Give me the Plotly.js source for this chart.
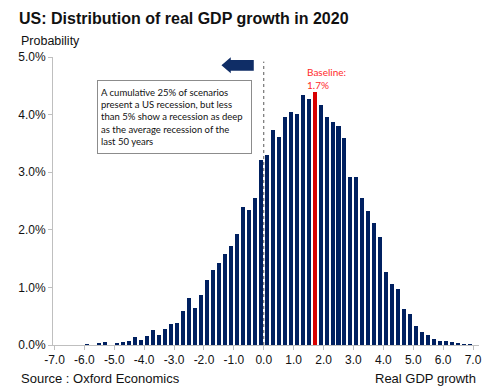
<!DOCTYPE html>
<html>
<head>
<meta charset="utf-8">
<script src="https://cdn.plot.ly/plotly-3.0.1.min.js"></script>
<style>html,body{margin:0;padding:0;background:#fff;}#chart{width:502px;height:390px;}</style>
</head>
<body>
<div id="chart"></div>
<script>
// Bin centres (real GDP growth, %)
const categories = [-5.9,-5.7,-5.5,-5.3,-5.1,-4.9,-4.7,-4.5,-4.3,-4.1,-3.9,-3.7,-3.5,-3.3,-3.1,-2.9,-2.7,-2.5,-2.3,-2.1,-1.9,-1.7,-1.5,-1.3,-1.1,-0.9,-0.7,-0.5,-0.3,-0.1,0.1,0.3,0.5,0.7,0.9,1.1,1.3,1.5,1.7,1.9,2.1,2.3,2.5,2.7,2.9,3.1,3.3,3.5,3.7,3.9,4.1,4.3,4.5,4.7,4.9,5.1,5.3,5.5,5.7,5.9,6.1,6.3,6.5,6.7,6.9];
// Probability (%)
const probability = [0.02,0,0.03,0.05,0,0.035,0.045,0.075,0.14,0.09,0.16,0.255,0.17,0.27,0.365,0.377,0.59,0.816,0.637,0.86,1.13,1.30,1.43,1.585,1.72,1.93,2.40,2.34,2.55,3.21,3.30,3.73,3.61,3.95,4.05,4.01,4.34,4.27,4.39,4.16,3.96,3.87,3.81,3.59,2.92,2.91,2.56,2.32,2.12,1.87,1.27,1.065,0.98,0.625,0.54,0.336,0.226,0.174,0.10,0.075,0.064,0.046,0.03,0.023,0.01];
const baseline = 1.7;
const xTickVals = [-7,-6,-5,-4,-3,-2,-1,0,1,2,3,4,5,6,7];
const xTickText = ["-7.0","-6.0","-5.0","-4.0","-3.0","-2.0","-1.0","0.0","1.0","2.0","3.0","4.0","5.0","6.0","7.0"];
const yTickVals = [0,1,2,3,4,5];
const yTickText = ["0.0%","1.0%","2.0%","3.0%","4.0%","5.0%"];

const navy = '#002060';
const red = '#d80000';
const colors = categories.map(c => Math.abs(c - baseline) < 1e-9 ? red : navy);

const trace = {
  type: 'bar',
  x: categories,
  y: probability,
  width: 0.135,
  marker: {color: colors, line: {width: 0}},
  hoverinfo: 'x+y'
};

const font = 'Liberation Sans, Arial, sans-serif';
const boxFont = 'Lato, Open Sans, sans-serif';

const layout = {
  width: 502, height: 390,
  margin: {l: 53, r: 23, t: 57, b: 45},
  paper_bgcolor: '#fff', plot_bgcolor: '#fff',
  showlegend: false,
  bargap: 0,
  font: {family: font, size: 12, color: '#111'},
  title: {
    text: 'US: Distribution of real GDP growth in 2020',
    font: {family: font, size: 16, color: '#111', weight: 'bold'},
    xref: 'container', yref: 'container',
    x: 19/502, xanchor: 'left',
    y: 1 - 18/390, yanchor: 'middle'
  },
  xaxis: {
    range: [-7.05, 7.2],
    tickmode: 'array', tickvals: xTickVals, ticktext: xTickText,
    showgrid: false, zeroline: false,
    showline: true, linecolor: '#bfbfbf', linewidth: 1,
    ticks: 'outside', ticklen: 4, tickcolor: '#bfbfbf',
    tickfont: {family: font, size: 12, color: '#111'},
    fixedrange: true
  },
  yaxis: {
    range: [0, 5],
    tickmode: 'array', tickvals: yTickVals, ticktext: yTickText,
    showgrid: false, zeroline: false,
    showline: true, linecolor: '#bfbfbf', linewidth: 1,
    ticks: 'outside', ticklen: 4, tickcolor: '#bfbfbf',
    tickfont: {family: font, size: 12, color: '#111'},
    fixedrange: true
  },
  shapes: [
    {type: 'line', xref: 'x', yref: 'y', x0: 0, x1: 0, y0: 0, y1: 4.92,
     line: {color: '#595959', width: 1, dash: 'dot'}},
    {type: 'path', xref: 'x', yref: 'y',
     path: 'M -1.415 4.856 L -1.104 4.995 L -1.104 4.948 L -0.334 4.948 L -0.334 4.762 L -1.104 4.762 L -1.104 4.717 Z',
     fillcolor: '#0f2d66', line: {width: 0}}
  ],
  annotations: [
    {text: 'Probability', xref: 'paper', yref: 'paper',
     x: (19-53)/426, y: (345-41)/288, xanchor: 'left', yanchor: 'middle',
     showarrow: false, font: {family: font, size: 12.5, color: '#111'}},
    {text: 'Source : Oxford Economics', xref: 'paper', yref: 'paper',
     x: (19-53)/426, y: (345-378)/288, xanchor: 'left', yanchor: 'middle',
     showarrow: false, font: {family: font, size: 13, color: '#111'}},
    {text: 'Real GDP growth', xref: 'paper', yref: 'paper',
     x: (478-53)/426, y: (345-378)/288, xanchor: 'right', yanchor: 'middle',
     showarrow: false, font: {family: font, size: 13, color: '#111'}},
    {text: 'A cumulative 25% of scenarios<br>present a US recession, but less<br>than 5% show a recession as deep<br>as the average recession of the<br>last 50 years',
     xref: 'x', yref: 'y', x: -2.98, y: 3.96, xanchor: 'center', yanchor: 'middle',
     align: 'left', showarrow: false, width: 147, height: 66,
     bgcolor: '#fff', bordercolor: '#8c8c8c', borderwidth: 1, borderpad: 3,
     font: {family: boxFont, size: 9.5, color: '#111'}},
    {text: 'Baseline:<br>1.7%', xref: 'x', yref: 'y', x: 1.37, y: 4.63,
     xanchor: 'left', yanchor: 'middle', align: 'left', showarrow: false,
     font: {family: boxFont, size: 10, color: '#ff2a2a'}}
  ]
};

Plotly.newPlot('chart', [trace], layout, {displayModeBar: false, staticPlot: true});
</script>
</body>
</html>
